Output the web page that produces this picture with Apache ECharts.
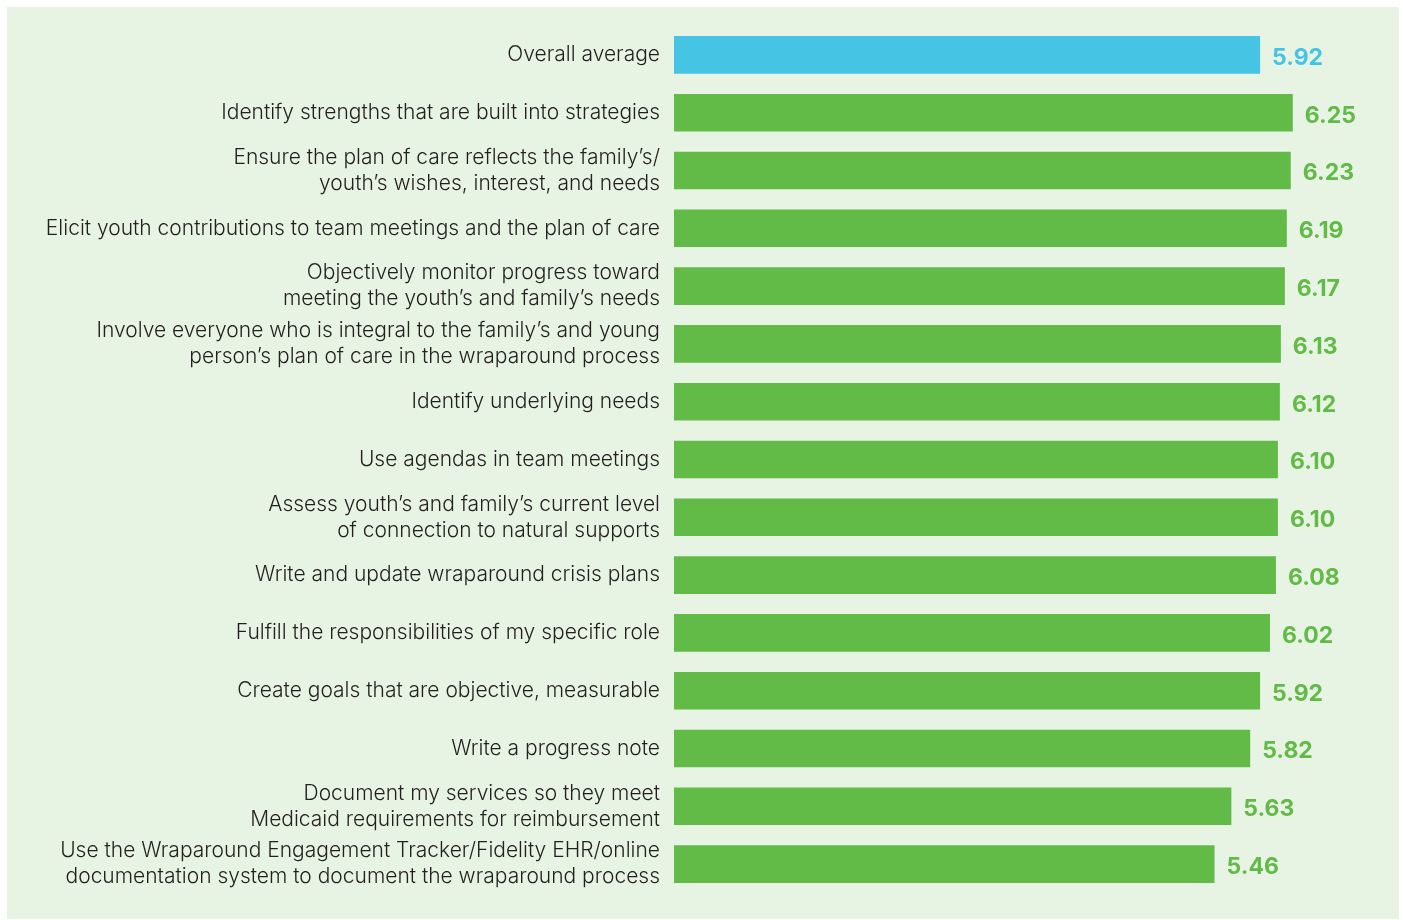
<!DOCTYPE html>
<html>
<head>
<meta charset="utf-8">
<script src="https://cdn.jsdelivr.net/npm/echarts@6/dist/echarts.min.js"></script>
<style>
  html, body { margin: 0; padding: 0; background: #ffffff; }
  #chart { width: 1403px; height: 920px; }
</style>
</head>
<body>
<div id="chart"></div>
<script>
// Survey items, top to bottom
const categories = [
  'Overall average',
  'Identify strengths that are built into strategies',
  'Ensure the plan of care reflects the family\u2019s/\nyouth\u2019s wishes, interest, and needs',
  'Elicit youth contributions to team meetings and the plan of care',
  'Objectively monitor progress toward\nmeeting the youth\u2019s and family\u2019s needs',
  'Involve everyone who is integral to the family\u2019s and young\nperson\u2019s plan of care in the wraparound process',
  'Identify underlying needs',
  'Use agendas in team meetings',
  'Assess youth\u2019s and family\u2019s current level\nof connection to natural supports',
  'Write and update wraparound crisis plans',
  'Fulfill the responsibilities of my specific role',
  'Create goals that are objective, measurable',
  'Write a progress note',
  'Document my services so they meet\nMedicaid requirements for reimbursement',
  'Use the Wraparound Engagement Tracker/Fidelity EHR/online\ndocumentation system to document the wraparound process'
];
const scores = [5.92, 6.25, 6.23, 6.19, 6.17, 6.13, 6.12, 6.10, 6.10, 6.08, 6.02, 5.92, 5.82, 5.63, 5.46];

const BLUE = '#45c5e3';
const GREEN = '#62ba47';

const chart = echarts.init(document.getElementById('chart'), null, { renderer: 'canvas' });
chart.setOption({
  backgroundColor: '#ffffff',
  animation: false,
  graphic: [{
    type: 'rect', z: -10, silent: true,
    shape: { x: 7, y: 7, width: 1392, height: 912 },
    style: { fill: '#e8f4e3' }
  }],
  grid: { left: 674, top: 26, width: 693, height: 867 },
  xAxis: {
    type: 'value', min: 0, max: 7,
    show: false
  },
  yAxis: {
    type: 'category', inverse: true,
    data: categories,
    axisLine: { show: false }, axisTick: { show: false },
    axisLabel: {
      margin: 14, color: '#231f20', fontFamily: 'Inter', fontSize: 21,
      fontWeight: 300, lineHeight: 26, align: 'right'
    }
  },
  series: [{
    type: 'bar',
    barCategoryGap: '35%',
    data: scores.map((v, i) => ({
      value: v,
      itemStyle: { color: i === 0 ? BLUE : GREEN },
      label: { color: i === 0 ? BLUE : GREEN }
    })),
    label: {
      show: true, position: 'right', distance: 12, offset: [0, 3],
      formatter: p => p.value.toFixed(2),
      fontFamily: 'Inter', fontWeight: 'bold', fontSize: 23
    }
  }]
});
</script>
</body>
</html>
